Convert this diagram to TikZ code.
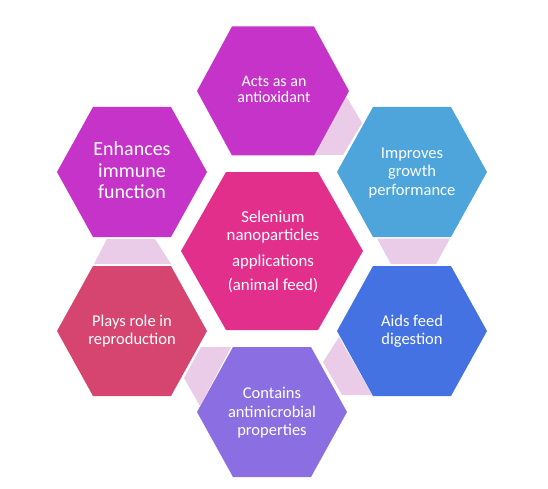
\documentclass[tikz,border=0pt]{standalone}
\usepackage{fontspec}
\setmainfont{Carlito}
\definecolor{cpink}{RGB}{226,47,140}
\definecolor{cviolet}{RGB}{197,51,200}
\definecolor{cblueA}{RGB}{77,165,220}
\definecolor{cblueB}{RGB}{68,114,226}
\definecolor{cpurple}{RGB}{139,111,226}
\definecolor{cred}{RGB}{214,69,112}
\definecolor{clight}{RGB}{234,203,232}
\newcommand{\hexat}[5]{%
  \fill[#5] ([shift={(-#2,0)}]#1) -- ([shift={(-#3,-#4)}]#1) -- ([shift={(#3,-#4)}]#1)
    -- ([shift={(#2,0)}]#1) -- ([shift={(#3,#4)}]#1) -- ([shift={(-#3,#4)}]#1) -- cycle;}
\tikzset{
  label/.style={text=white, align=center, inner sep=0pt, font=\fontsize{16.5}{18.4}\selectfont},
  link/.style={fill=clight},
}
\begin{document}
\begin{tikzpicture}[x=1pt,y=-1pt]
\useasboundingbox[fill=white] (0,0) rectangle (548,489);
% hex centres
\coordinate (hc) at (272,251);
\coordinate (ht) at (273,91);
\coordinate (hrt) at (412,172);
\coordinate (hrb) at (412,331);
\coordinate (hb) at (272,412);
\coordinate (hlb) at (132,331);
\coordinate (hlt) at (132,172);
% connectors
\fill[link] (346,96) -- (362,123) -- (343,155) -- (314,155) -- cycle;
\fill[link] (377,238.5) -- (450,238.5) -- (436,264) -- (391,264) -- cycle;
\fill[link] (339,337) -- (372,395) -- (342,395) -- (323,362) -- cycle;
\fill[link] (201,347) -- (231,347) -- (200,406) -- (184,378) -- cycle;
\fill[link] (107,239) -- (155,239) -- (171,264) -- (94,264) -- cycle;
% hexagons
\hexat{hc}{91}{46}{79}{cpink}
\hexat{ht}{76}{41}{64.5}{cviolet}
\hexat{hrt}{75}{39}{65}{cblueA}
\hexat{hrb}{75}{39}{65}{cblueB}
\hexat{hb}{75}{39}{65}{cpurple}
\hexat{hlb}{75}{39}{65}{cred}
\hexat{hlt}{75}{39}{65}{cviolet}
% labels
\node[label, font=\fontsize{16.8}{18.4}\selectfont] (tc) at (273,252) {Selenium\\nanoparticles\\[7.6pt]applications\\[5.6pt](animal feed)};
\node[label, font=\fontsize{16}{16.5}\selectfont] (tt) at (274,89.5) {Acts as an\\antioxidant};
\node[label] (trt) at (412,173) {Improves\\growth\\performance};
\node[label] (trb) at (412,331) {Aids feed\\digestion};
\node[label] (tb) at (272,413) {Contains\\antimicrobial\\properties};
\node[label] (tlb) at (132,331) {Plays role in\\reproduction};
\node[label, font=\fontsize{20}{21.5}\selectfont] (tlt) at (132,170.5) {Enhances\\immune\\function};
\end{tikzpicture}
\end{document}
